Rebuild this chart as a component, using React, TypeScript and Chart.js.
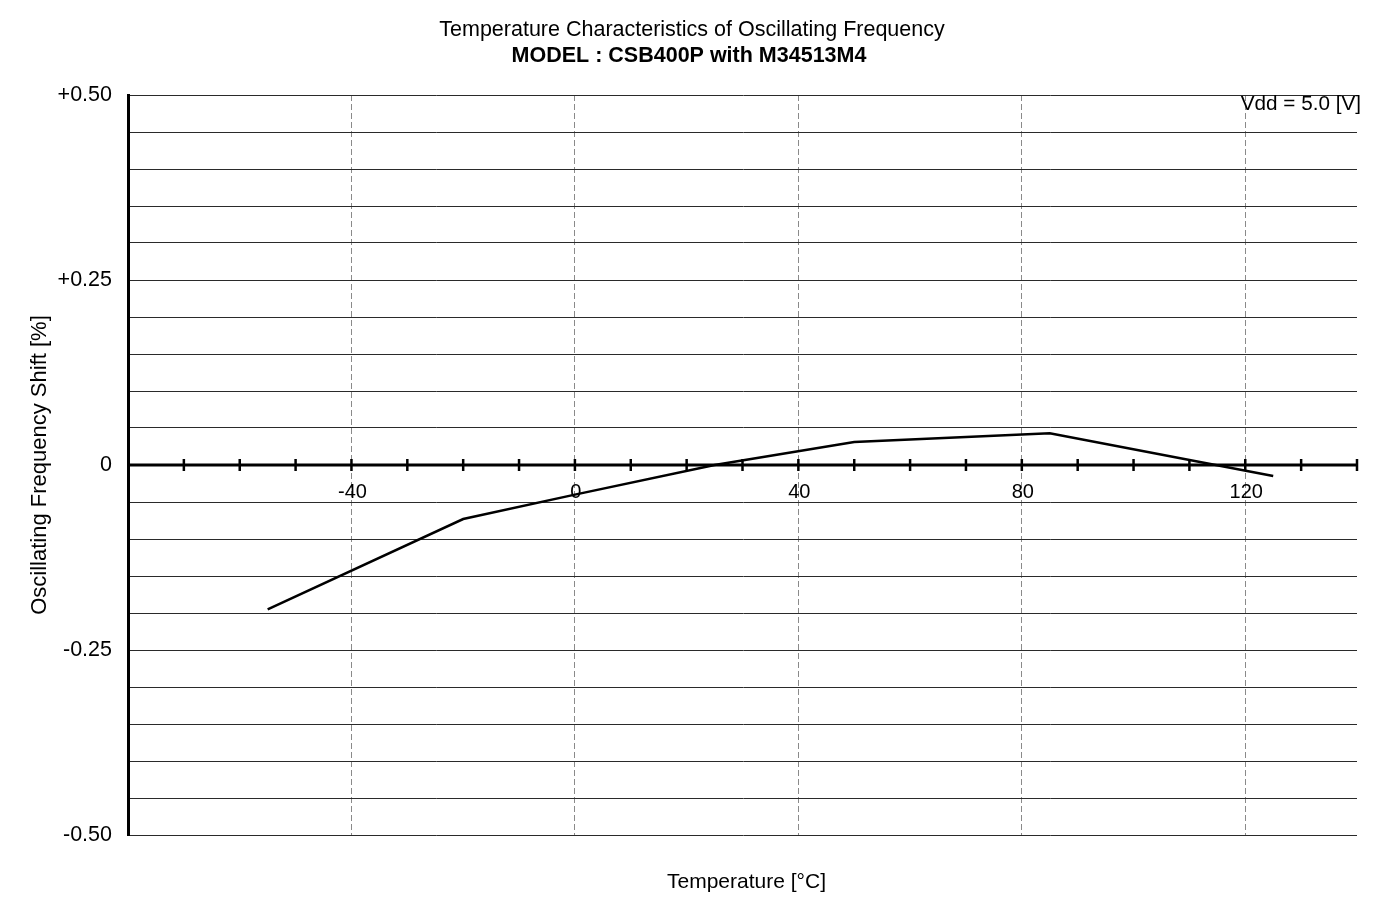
import React, { useEffect, useRef } from 'react';
import { Chart, registerables } from 'chart.js';

Chart.register(...registerables);

// ---- data ----
const temperatures = [-55, -20, 0, 25, 50, 85, 125];
const frequencyShift = [-0.195, -0.073, -0.04, 0.0, 0.031, 0.043, -0.015];
const xLabelValues = [-40, 0, 40, 80, 120];
const xTickMarks = [-70, -60, -50, -40, -30, -20, -10, 0, 10, 20, 30, 40, 50, 60, 70, 80, 90, 100, 110, 120, 130, 140];
const yLabelValues = [0.5, 0.25, 0, -0.25, -0.5];
const yLabelTexts = ['+0.50', '+0.25', '0', '-0.25', '-0.50'];
const titleLines = ['Temperature Characteristics of Oscillating Frequency', 'MODEL : CSB400P with M34513M4'];
const conditionLabel = 'Vdd = 5.0 [V]';
const xTitle = 'Temperature [°C]';
const yTitle = 'Oscillating Frequency Shift [%]';

const FONT = '"Liberation Sans", Arial, Helvetica, sans-serif';

const overlayPlugin = {
  id: 'overlay',
  beforeDatasetsDraw(chart: any) {
    const { ctx, scales } = chart;
    const xs = scales.x;
    const ys = scales.y;
    const y0 = ys.getPixelForValue(0);
    ctx.save();
    ctx.strokeStyle = '#000';
    ctx.lineWidth = 3;
    ctx.beginPath();
    ctx.moveTo(xs.left, y0);
    ctx.lineTo(xs.right, y0);
    ctx.stroke();
    ctx.lineWidth = 2.5;
    for (const t of xTickMarks) {
      const px = xs.getPixelForValue(t);
      ctx.beginPath();
      ctx.moveTo(px, y0 - 6);
      ctx.lineTo(px, y0 + 6);
      ctx.stroke();
    }
    ctx.fillStyle = '#000';
    ctx.font = `20px ${FONT}`;
    ctx.textAlign = 'center';
    ctx.textBaseline = 'middle';
    for (const v of xLabelValues) {
      ctx.fillText(String(v), xs.getPixelForValue(v) + 1, y0 + 27);
    }
    ctx.restore();
  },
  afterDraw(chart: any) {
    const { ctx, scales, chartArea } = chart;
    ctx.save();
    ctx.fillStyle = '#000';
    ctx.textBaseline = 'middle';
    ctx.textAlign = 'center';
    ctx.font = `21.5px ${FONT}`;
    ctx.fillText(titleLines[0], 692, 30);
    ctx.font = `bold 21.5px ${FONT}`;
    ctx.fillText(titleLines[1], 689, 56);
    ctx.font = `20.7px ${FONT}`;
    ctx.textAlign = 'right';
    ctx.fillText(conditionLabel, chartArea.right + 4, chartArea.top + 9);
    ctx.font = `21px ${FONT}`;
    ctx.textAlign = 'center';
    ctx.fillText(xTitle, (scales.x.left + scales.x.right) / 2 + 4, 882);
    ctx.font = `22px ${FONT}`;
    ctx.translate(40, (chartArea.top + chartArea.bottom) / 2);
    ctx.rotate(-Math.PI / 2);
    ctx.fillText(yTitle, 0, 0);
    ctx.restore();
  },
};

export default function App() {
  const canvasRef = useRef<HTMLCanvasElement | null>(null);

  useEffect(() => {
    document.body.style.margin = '0';
    const canvas = canvasRef.current;
    if (!canvas) return;
    const chart = new Chart(canvas, {
      type: 'line',
      data: {
        datasets: [
          {
            data: temperatures.map((t, i) => ({ x: t, y: frequencyShift[i] })),
            borderColor: '#000',
            borderWidth: 2.5,
            pointRadius: 0,
            tension: 0,
            fill: false,
          },
        ],
      },
      options: {
        animation: false,
        responsive: false,
        devicePixelRatio: 1,
        layout: { padding: { top: 95, right: 26, bottom: 0, left: 0 } },
        plugins: {
          legend: { display: false },
          title: { display: false },
          tooltip: { enabled: false },
        },
        scales: {
          x: {
            type: 'linear',
            min: -80,
            max: 140,
            ticks: { stepSize: 10, display: false },
            grid: {
              drawTicks: false,
              color: (c: any) => (xLabelValues.includes(Math.round(c.tick?.value)) ? '#8a8a8a' : 'rgba(0,0,0,0)'),
              lineWidth: 1,
            },
            border: { display: false, dash: [6, 3] },
            afterFit: (s: any) => {
              s.height = 82;
            },
          },
          y: {
            type: 'linear',
            min: -0.5,
            max: 0.5,
            ticks: {
              stepSize: 0.05,
              autoSkip: false,
              padding: 16,
              color: '#000',
              font: { family: FONT, size: 21.5 },
              callback: (value: any) => {
                const idx = yLabelValues.findIndex((v) => Math.abs(v - Number(value)) < 1e-6);
                return idx >= 0 ? yLabelTexts[idx] : '';
              },
            },
            grid: { drawTicks: false, color: '#2a2a2a', lineWidth: 1 },
            border: { display: true, color: '#000', width: 3 },
            afterFit: (s: any) => {
              s.width = 128;
            },
          },
        },
      },
      plugins: [overlayPlugin],
    });
    return () => chart.destroy();
  }, []);

  return (
    <div style={{ width: 1383, height: 917, background: '#fff' }}>
      <canvas ref={canvasRef} width={1383} height={917} style={{ display: 'block', width: 1383, height: 917 }} />
    </div>
  );
}
